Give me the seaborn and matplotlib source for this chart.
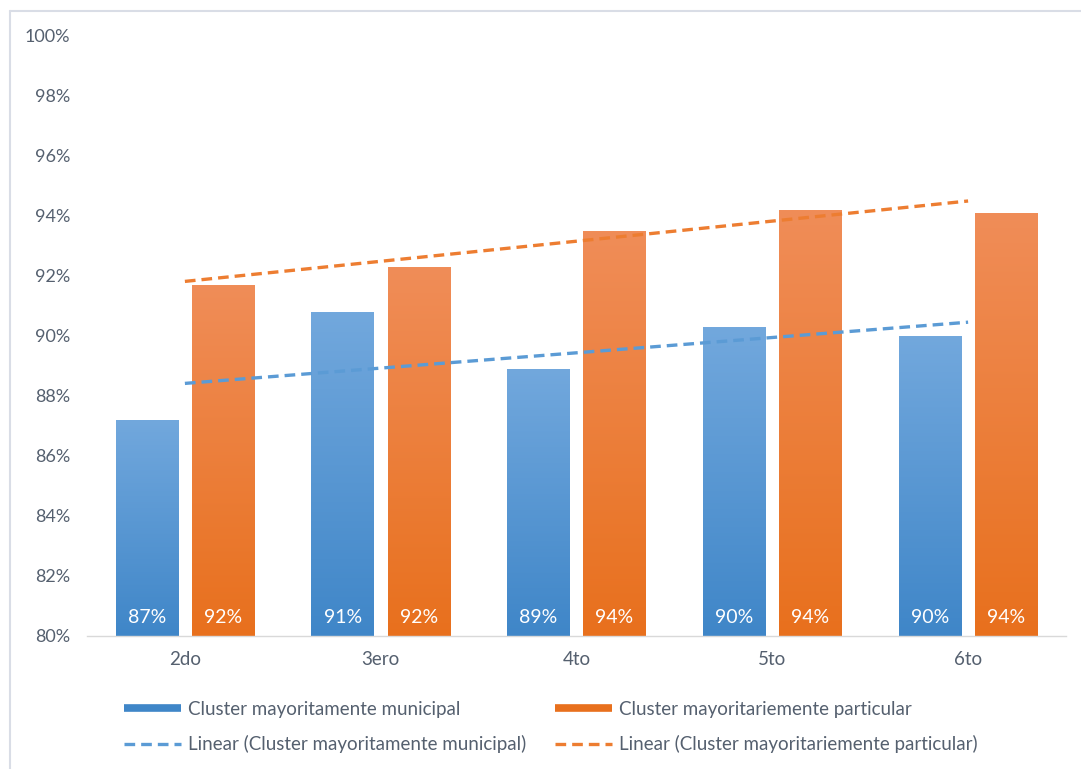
import numpy as np
import pandas as pd
import matplotlib
matplotlib.use("Agg")
import matplotlib.pyplot as plt
import seaborn as sns
from matplotlib.lines import Line2D
from matplotlib.colors import LinearSegmentedColormap

# Data
grades = ["2do", "3ero", "4to", "5to", "6to"]
municipal = [87.2, 90.8, 88.9, 90.3, 90.0]
particular = [91.7, 92.3, 93.5, 94.2, 94.1]
series_names = ["Cluster mayoritamente municipal", "Cluster mayoritariemente particular"]
y_ticks = [80, 82, 84, 86, 88, 90, 92, 94, 96, 98, 100]

df = pd.DataFrame({
    "grado": grades * 2,
    "valor": municipal + particular,
    "serie": [series_names[0]] * len(grades) + [series_names[1]] * len(grades),
})

sns.set_theme(style="white")
plt.rcParams["font.family"] = ["Lato", "DejaVu Sans"]
text_color = "#55606f"

blue_line = "#5b9bd5"
orange_line = "#ed7d31"
blue_grad = ("#72a8dd", "#3f86c8")
orange_grad = ("#f08d58", "#e8701d")
dash = (0, (3.2, 1.8))

fig = plt.figure(figsize=(10.81, 7.69), dpi=100)
ax = fig.add_axes([87 / 1081, 1 - 636 / 769, (1066 - 87) / 1081, (636 - 36) / 769])

sns.barplot(data=df, x="grado", y="valor", hue="serie", order=grades,
            hue_order=series_names, palette=[blue_grad[1], orange_grad[1]],
            width=0.777, gap=0.18, ax=ax, legend=False, errorbar=None,
            linewidth=0)

ax.set_ylim(80, 100)
ax.set_xlim(-0.5, len(grades) - 0.5)

# Vertical gradient fill for every bar, clipped to the bar shape
grad = np.linspace(0, 1, 256).reshape(-1, 1)
for container, (top_c, bot_c) in zip(ax.containers, [blue_grad, orange_grad]):
    cmap = LinearSegmentedColormap.from_list("g", [bot_c, top_c])
    for bar in container:
        x0, y0 = bar.get_x(), bar.get_y()
        w, h = bar.get_width(), bar.get_height()
        im = ax.imshow(grad, cmap=cmap, origin="lower", aspect="auto",
                       extent=[x0, x0 + w, 80, y0 + h], zorder=bar.get_zorder() + 0.1)
        im.set_clip_path(bar)

# Value labels near the base of each bar
for container, vals in zip(ax.containers, [municipal, particular]):
    for bar, v in zip(container, vals):
        ax.text(bar.get_x() + bar.get_width() / 2, 80.63, f"{v:.0f}%",
                ha="center", va="center", color="white", fontsize=14, zorder=5)

# Linear trend lines
xs = np.arange(len(grades))
for vals, col in zip([municipal, particular], [blue_line, orange_line]):
    slope, intercept = np.polyfit(xs, vals, 1)
    ax.plot(xs, slope * xs + intercept, color=col, lw=2.4, ls=dash,
            zorder=6, dash_capstyle="butt")

ax.set_yticks(y_ticks)
ax.set_yticklabels([f"{t}%" for t in y_ticks])
ax.set_xlabel("")
ax.set_ylabel("")
ax.tick_params(axis="y", length=0, pad=12, labelsize=13, labelcolor=text_color)
ax.tick_params(axis="x", length=0, pad=11, labelsize=13.5, labelcolor=text_color)
for s in ["top", "right", "left"]:
    ax.spines[s].set_visible(False)
ax.spines["bottom"].set_color("#d9d9d9")
ax.spines["bottom"].set_linewidth(1.0)
ax.grid(False)

# Outer chart frame (top and left edges)
fig.add_artist(Line2D([10 / 1081, 10 / 1081], [0, 1 - 11 / 769], transform=fig.transFigure,
                      color="#d9dde6", lw=1.5))
fig.add_artist(Line2D([10 / 1081, 1], [1 - 11 / 769, 1 - 11 / 769], transform=fig.transFigure,
                      color="#d9dde6", lw=1.5))

handles = [
    Line2D([], [], color=blue_grad[1], lw=5.5, solid_capstyle="butt"),
    Line2D([], [], color=blue_line, lw=2.4, ls=dash),
    Line2D([], [], color=orange_grad[1], lw=5.5, solid_capstyle="butt"),
    Line2D([], [], color=orange_line, lw=2.4, ls=dash),
]
labels = [series_names[0], f"Linear ({series_names[0]})",
          series_names[1], f"Linear ({series_names[1]})"]
leg = fig.legend(handles, labels, ncol=2, frameon=False, fontsize=13.5,
                 loc="center left", bbox_to_anchor=(124 / 1081, 1 - 727 / 769),
                 handlelength=3.05, handletextpad=0.37, labelspacing=0.95,
                 columnspacing=1.5, borderaxespad=0, borderpad=0)
for t in leg.get_texts():
    t.set_color(text_color)

fig.savefig("out.png", dpi=100, facecolor="white")
